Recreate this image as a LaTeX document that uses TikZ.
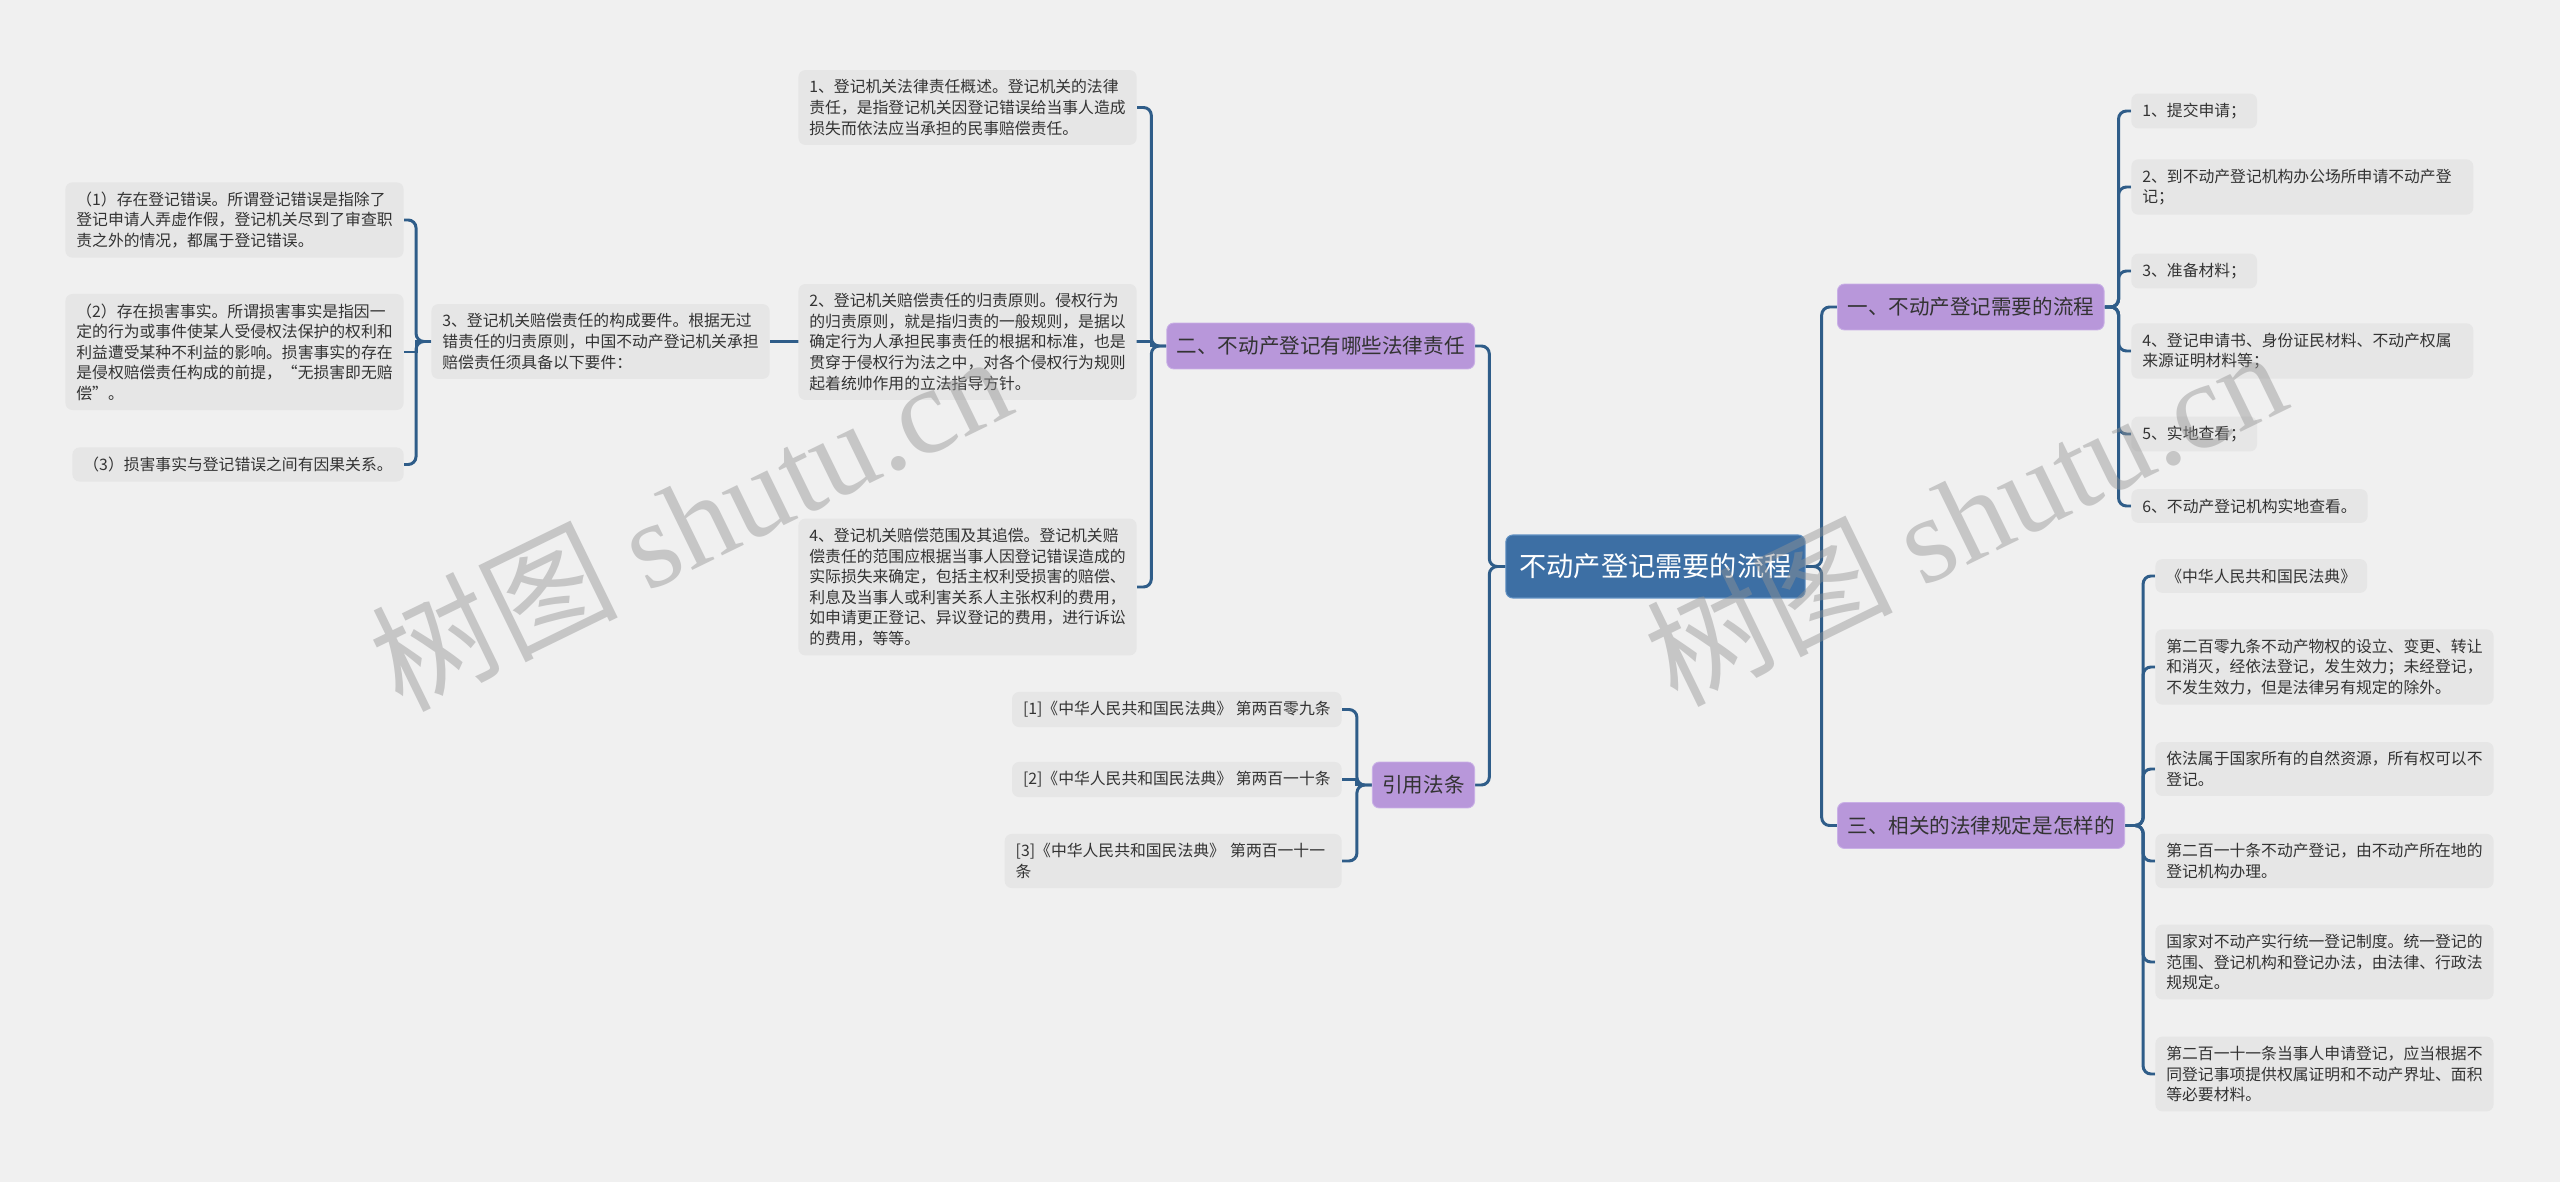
\documentclass[tikz,border=0pt]{standalone}
\usepackage{fontspec}
\setmainfont{Noto Sans CJK SC}
\newfontfamily\wmserif{Liberation Serif}
\usepackage{xcolor}
\usetikzlibrary{positioning, backgrounds}

\definecolor{bgcol}{HTML}{F0F0F0}
\definecolor{leafcol}{HTML}{E6E6E6}
\definecolor{secfill}{HTML}{B897DA}
\definecolor{secdraw}{HTML}{C9B0E6}
\definecolor{rootfill}{HTML}{3D6FA4}
\definecolor{rootdraw}{HTML}{6090C2}
\definecolor{linkcol}{HTML}{2F5D89}
\definecolor{txtcol}{HTML}{333333}

\begin{document}
\begin{tikzpicture}[x=0.02cm, y=-0.02cm,
    root/.style={rectangle, rounded corners=4pt, fill=rootfill, draw=rootdraw,
                 line width=0.6pt, text=white, font=\fontsize{15.5}{18}\selectfont,
                 inner xsep=0.27cm, minimum height=1.26cm},
    sec/.style={rectangle, rounded corners=4pt, fill=secfill, draw=secdraw,
                line width=0.5pt, text=txtcol, font=\fontsize{11.7}{14}\selectfont,
                inner xsep=0.2cm, minimum height=0.92cm},
    leaf/.style={rectangle, rounded corners=4pt, fill=leafcol, text=txtcol,
                 font=\fontsize{9}{11.7}\selectfont, align=left,
                 inner xsep=0.22cm, inner ysep=0.19cm},
    link/.style={draw=linkcol, line width=1.7pt, rounded corners=4.5pt},
    wmark/.style={text=gray!85, text opacity=0.45, font=\fontsize{70}{70}\selectfont},
]

\useasboundingbox (0,0) rectangle (2560,1182);

% Centre and first level
\node[root] (root) at (1655.5,566.5) {不动产登记需要的流程};
\node[sec, anchor=west] (sec1) at (1837,307)   {一、不动产登记需要的流程};
\node[sec, anchor=west] (sec3) at (1837,825.5) {三、相关的法律规定是怎样的};
\node[sec, anchor=east] (sec2) at (1475,346)   {二、不动产登记有哪些法律责任};
\node[sec, anchor=east] (cite) at (1475,785)   {引用法条};

% Right side: procedure
\node[leaf, anchor=west] (p1) at (2131,111) {1、提交申请；};
\node[leaf, anchor=west, text width=6.4cm] (p2) at (2131,187) {2、到不动产登记机构办公场所申请不动产登\\记；};
\node[leaf, anchor=west] (p3) at (2131,271) {3、准备材料；};
\node[leaf, anchor=west, text width=6.4cm] (p4) at (2131,351) {4、登记申请书、身份证民材料、不动产权属\\来源证明材料等；};
\node[leaf, anchor=west] (p5) at (2131,434) {5、实地查看；};
\node[leaf, anchor=west] (p6) at (2131,506) {6、不动产登记机构实地查看。};

% Right side: legal rules
\node[leaf, anchor=west] (r1) at (2155,576) {《中华人民共和国民法典》};
\node[leaf, anchor=west] (r2) at (2155,667) {第二百零九条不动产物权的设立、变更、转让\\和消灭，经依法登记，发生效力；未经登记，\\不发生效力，但是法律另有规定的除外。};
\node[leaf, anchor=west] (r3) at (2155,769) {依法属于国家所有的自然资源，所有权可以不\\登记。};
\node[leaf, anchor=west] (r4) at (2155,861) {第二百一十条不动产登记，由不动产所在地的\\登记机构办理。};
\node[leaf, anchor=west] (r5) at (2155,962) {国家对不动产实行统一登记制度。统一登记的\\范围、登记机构和登记办法，由法律、行政法\\规规定。};
\node[leaf, anchor=west] (r6) at (2155,1074) {第二百一十一条当事人申请登记，应当根据不\\同登记事项提供权属证明和不动产界址、面积\\等必要材料。};

% Left side: liability
\node[leaf, anchor=east] (d1) at (1137,107.5) {1、登记机关法律责任概述。登记机关的法律\\责任，是指登记机关因登记错误给当事人造成\\损失而依法应当承担的民事赔偿责任。};
\node[leaf, anchor=east] (d2) at (1137,342) {2、登记机关赔偿责任的归责原则。侵权行为\\的归责原则，就是指归责的一般规则，是据以\\确定行为人承担民事责任的根据和标准，也是\\贯穿于侵权行为法之中，对各个侵权行为规则\\起着统帅作用的立法指导方针。};
\node[leaf, anchor=east] (d3) at (770,341.5) {3、登记机关赔偿责任的构成要件。根据无过\\错责任的归责原则，中国不动产登记机关承担\\赔偿责任须具备以下要件：};
\node[leaf, anchor=east] (d4) at (1137,587) {4、登记机关赔偿范围及其追偿。登记机关赔\\偿责任的范围应根据当事人因登记错误造成的\\实际损失来确定，包括主权利受损害的赔偿、\\利息及当事人或利害关系人主张权利的费用，\\如申请更正登记、异议登记的费用，进行诉讼\\的费用，等等。};

\node[leaf, anchor=east] (e1) at (404,220) {（1）存在登记错误。所谓登记错误是指除了\\登记申请人弄虚作假，登记机关尽到了审查职\\责之外的情况，都属于登记错误。};
\node[leaf, anchor=east] (e2) at (404,352) {（2）存在损害事实。所谓损害事实是指因一\\定的行为或事件使某人受侵权法保护的权利和\\利益遭受某种不利益的影响。损害事实的存在\\是侵权赔偿责任构成的前提，“无损害即无赔\\偿”。};
\node[leaf, anchor=east] (e3) at (404,464.5) {（3）损害事实与登记错误之间有因果关系。};

% Left side: cited articles
\node[leaf, anchor=east] (c1) at (1342,709.5) {[1]《中华人民共和国民法典》 第两百零九条};
\node[leaf, anchor=east] (c2) at (1342,779.5) {[2]《中华人民共和国民法典》 第两百一十条};
\node[leaf, anchor=east, text width=6.3cm] (c3) at (1342,861) {[3]《中华人民共和国民法典》 第两百一十一\\条};

% Connectors behind the boxes
\begin{scope}[on background layer]
\fill[bgcol] (0,0) rectangle (2560,1182);
\draw[link] (root.east) -- ++(16,0) |- (sec1.west);
\draw[link] (root.east) -- ++(16,0) |- (sec3.west);
\draw[link] (root.west) -- ++(-16,0) |- (sec2.east);
\draw[link] (root.west) -- ++(-16,0) |- (cite.east);

\draw[link] (sec1.east) -- ++(14,0) |- (p1.west);
\draw[link] (sec1.east) -- ++(14,0) |- (p2.west);
\draw[link] (sec1.east) -- ++(14,0) |- (p3.west);
\draw[link] (sec1.east) -- ++(14,0) |- (p4.west);
\draw[link] (sec1.east) -- ++(14,0) |- (p5.west);
\draw[link] (sec1.east) -- ++(14,0) |- (p6.west);

\draw[link] (sec3.east) -- ++(18,0) |- (r1.west);
\draw[link] (sec3.east) -- ++(18,0) |- (r2.west);
\draw[link] (sec3.east) -- ++(18,0) |- (r3.west);
\draw[link] (sec3.east) -- ++(18,0) |- (r4.west);
\draw[link] (sec3.east) -- ++(18,0) |- (r5.west);
\draw[link] (sec3.east) -- ++(18,0) |- (r6.west);

\draw[link] (sec2.west) -- ++(-15,0) |- (d1.east);
\draw[link, sharp corners] (sec2.west) -- ++(-15,0) |- (d2.east);
\draw[link, sharp corners] (sec2.west) -- ++(-15,0) |- (d3.east);
\draw[link] (sec2.west) -- ++(-15,0) |- (d4.east);

\draw[link] (d3.west) -- ++(-15,0) |- (e1.east);
\draw[link, sharp corners] (d3.west) -- ++(-15,0) |- (e2.east);
\draw[link] (d3.west) -- ++(-15,0) |- (e3.east);

\draw[link] (cite.west) -- ++(-15,0) |- (c1.east);
\draw[link, sharp corners] (cite.west) -- ++(-15,0) |- (c2.east);
\draw[link] (cite.west) -- ++(-15,0) |- (c3.east);
\end{scope}

% Watermarks
\node[wmark, rotate=26] (wm1) at (690,520) {树图 {\wmserif shutu.cn}};
\node[wmark, rotate=26] (wm2) at (1965,515) {树图 {\wmserif shutu.cn}};

\end{tikzpicture}
\end{document}
